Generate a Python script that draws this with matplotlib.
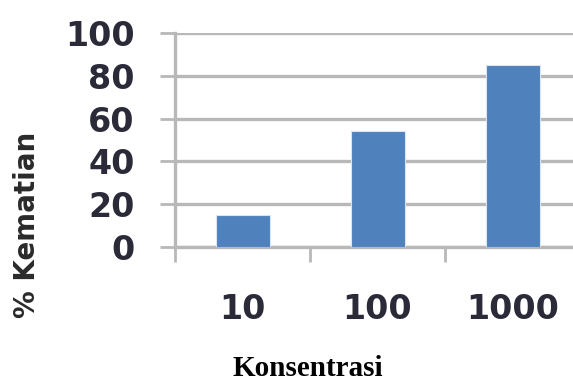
import matplotlib.pyplot as plt

# data
konsentrasi = ['10', '100', '1000']
kematian = [15, 54, 85]
y_ticks = [0, 20, 40, 60, 80, 100]

warna_bar = '#4f81bd'
warna_grid = '#b8b8b8'

fig = plt.figure(figsize=(5.73, 3.80), dpi=100)
# axes runs a bit past the right edge, like the cropped original
ax = fig.add_axes([175 / 573, 133 / 380, 405 / 573, 214 / 380])

pos = list(range(len(konsentrasi)))
ax.bar(pos, kematian, width=0.4, color=warna_bar, edgecolor='#dbe4f0', linewidth=0.8, zorder=3)

ax.set_xlim(-0.5, 2.5)
ax.set_ylim(0, 100)

# y axis
ax.set_yticks(y_ticks)
ax.set_yticklabels([str(v) for v in y_ticks], fontsize=24, fontweight='bold', color='#2a2a38')
ax.tick_params(axis='y', length=11, width=2, color=warna_grid, pad=18)
ax.yaxis.grid(True, color=warna_grid, linewidth=2.4, zorder=0)

# x axis: labels centred on bars, ticks at category boundaries
ax.set_xticks(pos)
ax.set_xticklabels(konsentrasi, fontsize=24, fontweight='bold', color='#2a2a38')
ax.tick_params(axis='x', which='major', length=0, pad=33)
ax.set_xticks([-0.5, 0.5, 1.5, 2.5], minor=True)
ax.tick_params(axis='x', which='minor', length=11, width=2, color=warna_grid)

for s in ['top', 'right']:
    ax.spines[s].set_visible(False)
for s in ['left', 'bottom']:
    ax.spines[s].set_color(warna_grid)
    ax.spines[s].set_linewidth(2.4)
ax.set_axisbelow(True)

fig.text(27 / 573, 1 - 225 / 380, '% Kematian', rotation=90, ha='center', va='center',
         fontsize=20, fontweight='bold', color='#2a2a2a')
fig.text(308 / 573, 1 - 368 / 380, 'Konsentrasi', ha='center', va='center',
         fontsize=21, fontweight='bold', family='Liberation Serif', color='black')

fig.savefig('out.png', dpi=100)
